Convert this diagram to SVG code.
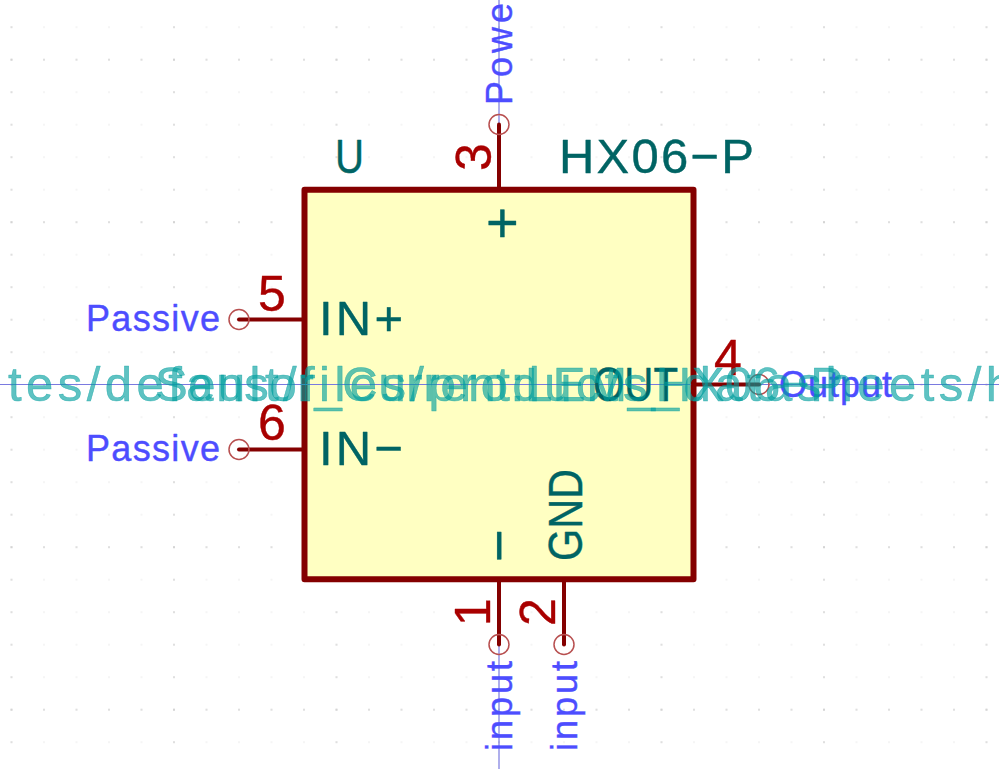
<svg xmlns="http://www.w3.org/2000/svg" width="999" height="769" viewBox="0 0 999 769">
<style>
text{font-family:"Liberation Sans",Arial,sans-serif;stroke-linejoin:round}
.body{fill:#ffffc2;stroke:#840000;stroke-width:6;stroke-linejoin:round}
.pin{stroke:#840000;stroke-width:4;stroke-linecap:round;fill:none}
.end{fill:none;stroke:#b85050;stroke-width:1.5}
.wire{stroke:#7a7ae0;stroke-width:1.2;fill:none}
.name{fill:#006464;font-size:49px;stroke:#006464;stroke-width:.4}
.big{font-size:56px}
.num{fill:#a90000;font-size:50px;stroke:#a90000;stroke-width:.4}
.type{fill:#4d4dff;font-size:36px;stroke:#4d4dff;stroke-width:.4}
.hid{fill:#009f9f;fill-opacity:.63;font-size:49px;stroke:#009f9f;stroke-opacity:.63;stroke-width:.5}
</style>
<defs>
<pattern id="g1" width="32.5" height="32.5" patternUnits="userSpaceOnUse" patternTransform="translate(11.5 27.2)"><rect x="-.7" y="-.7" width="1.4" height="1.4" fill="#ececec"/><rect x="31.8" y="-.7" width="1.4" height="1.4" fill="#ececec"/><rect x="-.7" y="31.8" width="1.4" height="1.4" fill="#ececec"/><rect x="31.8" y="31.8" width="1.4" height="1.4" fill="#ececec"/></pattern>
<pattern id="g2" width="32.5" height="162.5" patternUnits="userSpaceOnUse" patternTransform="translate(11.5 59.7)"><rect x="-.7" y="-.7" width="1.4" height="1.4" fill="#c8c8c8"/><rect x="31.8" y="-.7" width="1.4" height="1.4" fill="#c8c8c8"/><rect x="-.7" y="161.8" width="1.4" height="1.4" fill="#c8c8c8"/><rect x="31.8" y="161.8" width="1.4" height="1.4" fill="#c8c8c8"/></pattern>
<pattern id="g3" width="162.5" height="32.5" patternUnits="userSpaceOnUse" patternTransform="translate(11.5 27.2)"><rect x="-.7" y="-.7" width="1.4" height="1.4" fill="#c8c8c8"/><rect x="161.8" y="-.7" width="1.4" height="1.4" fill="#c8c8c8"/><rect x="-.7" y="31.8" width="1.4" height="1.4" fill="#c8c8c8"/><rect x="161.8" y="31.8" width="1.4" height="1.4" fill="#c8c8c8"/></pattern>
</defs>
<rect width="999" height="769" fill="#fff"/>
<rect width="999" height="769" fill="url(#g1)"/>
<rect width="999" height="769" fill="url(#g2)"/>
<rect width="999" height="769" fill="url(#g3)"/>
<g id="symbol">
<rect class="body" x="304.5" y="189.8" width="389" height="389.5"/>
<text class="name" x="335" y="173" textLength="29" lengthAdjust="spacingAndGlyphs">U</text>
<text class="name" x="559" y="173" textLength="195" lengthAdjust="spacing">HX06−P</text>
</g>
<g id="connectors">
<line class="wire" x1="0" y1="384.5" x2="999" y2="384.5"/>
<line class="wire" x1="499" y1="0" x2="499" y2="124.5"/>
<line class="wire" x1="499" y1="644.5" x2="499" y2="769"/>
</g>
<g id="pin3">
<line class="pin" x1="499" y1="124.5" x2="499" y2="190"/>
<circle class="end" cx="499" cy="124.5" r="10"/>
<text class="num" transform="translate(491 171) rotate(-90)">3</text>
<text class="name big" x="486" y="242">+</text>
<text class="type" transform="translate(512 105) rotate(-90)" textLength="118" lengthAdjust="spacing">Power</text>
</g>
<g id="pin5">
<line class="pin" x1="239" y1="319.5" x2="304" y2="319.5"/>
<circle class="end" cx="239" cy="319.5" r="10"/>
<text class="num" x="258" y="311">5</text>
<text class="name" x="319" y="335" textLength="84" lengthAdjust="spacing">IN+</text>
<text class="type" x="86" y="331" textLength="134" lengthAdjust="spacing">Passive</text>
</g>
<g id="pin6">
<line class="pin" x1="239" y1="449.5" x2="304" y2="449.5"/>
<circle class="end" cx="239" cy="449.5" r="10"/>
<text class="num" x="258" y="440">6</text>
<text class="name" x="319" y="465" textLength="84" lengthAdjust="spacing">IN−</text>
<text class="type" x="86" y="461" textLength="134" lengthAdjust="spacing">Passive</text>
</g>
<g id="pin4">
<line class="pin" x1="693" y1="384.5" x2="759" y2="384.5"/>
<circle class="end" cx="759" cy="384.5" r="10"/>
<text class="num" x="714" y="375">4</text>
<text class="name" x="593" y="401" textLength="85" lengthAdjust="spacingAndGlyphs">OUT</text>
<text class="type" x="779" y="397" textLength="113" lengthAdjust="spacing">Output</text>
</g>
<g id="pin1">
<line class="pin" x1="499" y1="579" x2="499" y2="644.5"/>
<circle class="end" cx="499" cy="644.5" r="10"/>
<text class="num" transform="translate(490 626) rotate(-90)">1</text>
<text class="name big" transform="translate(518 562) rotate(-90)">−</text>
<text class="type" transform="translate(512 751) rotate(-90)" textLength="90" lengthAdjust="spacing">input</text>
</g>
<g id="pin2">
<line class="pin" x1="564" y1="579" x2="564" y2="644.5"/>
<circle class="end" cx="564" cy="644.5" r="10"/>
<text class="num" transform="translate(555 626) rotate(-90)">2</text>
<text class="name" transform="translate(582 561) rotate(-90)" textLength="92" lengthAdjust="spacingAndGlyphs">GND</text>
<text class="type" transform="translate(577 751) rotate(-90)" textLength="90" lengthAdjust="spacing">input</text>
</g>
<g id="hidden-fields">
<text class="hid" x="155" y="401" textLength="688" lengthAdjust="spacing">Sensor_Current:LEM_HX06−P</text>
<text class="hid" x="8" y="401" textLength="1005" lengthAdjust="spacing">tes/default/files/products_datasheets/h</text>
</g>
</svg>
